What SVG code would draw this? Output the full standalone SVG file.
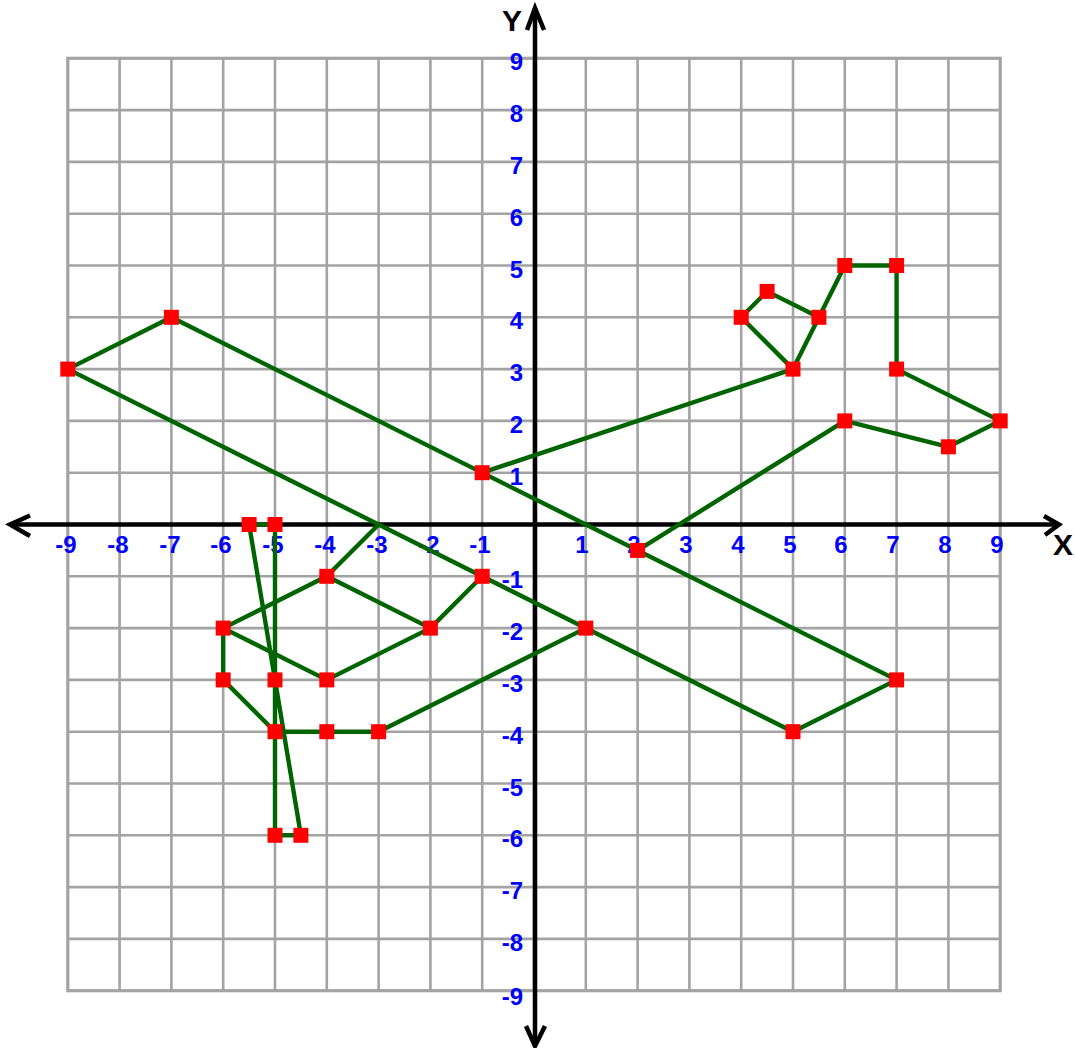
<svg xmlns="http://www.w3.org/2000/svg" width="1075" height="1048" viewBox="0 0 1075 1048">
<style>
.grid{stroke:#a3a3a3;stroke-width:2.6;fill:none}
.border{stroke:#a3a3a3;stroke-width:3.2;fill:none}
.axis{stroke:#000;stroke-width:4.5;fill:none}
.head{stroke:#000;stroke-width:4.5;fill:none;stroke-linecap:butt}
.lbl{font-family:"Liberation Sans",Arial,sans-serif;font-weight:bold;font-size:24px;fill:#0000ff}
.xl{text-anchor:middle}
.yl{text-anchor:end}
.ax{font-family:"Liberation Sans",Arial,sans-serif;font-weight:bold;font-size:30px;fill:#000}
.shape{stroke:#006400;stroke-width:4.4;fill:none;stroke-linejoin:round}
.pt{fill:#ff0000}
</style>
<rect width="1075" height="1048" fill="#fff"/>
<g id="grid">
<path class="grid" d="M119.6 58.3V990.7M171.4 58.3V990.7M223.2 58.3V990.7M275 58.3V990.7M326.8 58.3V990.7M378.6 58.3V990.7M430.4 58.3V990.7M482.2 58.3V990.7M534 58.3V990.7M585.8 58.3V990.7M637.6 58.3V990.7M689.4 58.3V990.7M741.2 58.3V990.7M793 58.3V990.7M844.8 58.3V990.7M896.6 58.3V990.7M948.4 58.3V990.7M67.8 110.1H1000.2M67.8 161.9H1000.2M67.8 213.7H1000.2M67.8 265.5H1000.2M67.8 317.3H1000.2M67.8 369.1H1000.2M67.8 420.9H1000.2M67.8 472.7H1000.2M67.8 524.5H1000.2M67.8 576.3H1000.2M67.8 628.1H1000.2M67.8 679.9H1000.2M67.8 731.7H1000.2M67.8 783.5H1000.2M67.8 835.3H1000.2M67.8 887.1H1000.2M67.8 938.9H1000.2"/>
<rect class="border" x="67.8" y="58.3" width="932.4" height="932.4"/>
</g>
<g id="x-labels" class="lbl xl">
<text x="66" y="553">-9</text>
<text x="118" y="553">-8</text>
<text x="170" y="553">-7</text>
<text x="221" y="553">-6</text>
<text x="273" y="553">-5</text>
<text x="325" y="553">-4</text>
<text x="377" y="553">-3</text>
<text x="429" y="553">-2</text>
<text x="480" y="553">-1</text>
<text x="582" y="553">1</text>
<text x="634" y="553">2</text>
<text x="686" y="553">3</text>
<text x="738" y="553">4</text>
<text x="790" y="553">5</text>
<text x="841" y="553">6</text>
<text x="893" y="553">7</text>
<text x="945" y="553">8</text>
<text x="997" y="553">9</text>
</g>
<g id="y-labels" class="lbl yl">
<text x="523" y="70">9</text>
<text x="523" y="122">8</text>
<text x="523" y="174">7</text>
<text x="523" y="226">6</text>
<text x="523" y="278">5</text>
<text x="523" y="329">4</text>
<text x="523" y="381">3</text>
<text x="523" y="433">2</text>
<text x="523" y="485">1</text>
<text x="523" y="588">-1</text>
<text x="523" y="640">-2</text>
<text x="523" y="692">-3</text>
<text x="523" y="744">-4</text>
<text x="523" y="796">-5</text>
<text x="523" y="847">-6</text>
<text x="523" y="899">-7</text>
<text x="523" y="951">-8</text>
<text x="523" y="1005">-9</text>
</g>
<g id="axes">
<path class="axis" d="M10 524.5H1059M535 8V1046"/>
<path class="head" d="M30 515.5L10 524.5L30 536M1044 516L1059 524.5L1045 535M527 30L535 8L544 30M526 1026L535 1046L545 1026"/>
<text class="ax" x="1053" y="555">X</text>
<text class="ax" x="502" y="31">Y</text>
</g>
<g id="connectors">
<polygon class="shape" points="67.8,369.1 171.4,317.3 896.6,679.9 793,731.7"/>
<polyline class="shape" points="482.2,472.7 793,369.1"/>
<polygon class="shape" points="793,369.1 741.2,317.3 767.1,291.4 818.9,317.3"/>
<polyline class="shape" points="818.9,317.3 844.8,265.5 896.6,265.5 896.6,369.1 1000.2,420.9 948.4,446.8 844.8,420.9 637.6,550.4"/>
<polyline class="shape" points="585.8,628.1 378.6,731.7 275,731.7 223.2,679.9 223.2,628.1 326.8,576.3 378.6,524.5"/>
<polyline class="shape" points="223.2,628.1 326.8,679.9 430.4,628.1 482.2,576.3"/>
<polyline class="shape" points="326.8,576.3 430.4,628.1"/>
<polygon class="shape" points="249.1,524.5 275,524.5 275,835.3 300.9,835.3"/>
</g>
<g id="points">
<g id="p1"><rect class="pt" x="60.3" y="361.6" width="15" height="15"/></g>
<g id="p2"><rect class="pt" x="163.9" y="309.8" width="15" height="15"/></g>
<g id="p3"><rect class="pt" x="474.7" y="465.2" width="15" height="15"/></g>
<g id="p4"><rect class="pt" x="785.5" y="361.6" width="15" height="15"/></g>
<g id="p5"><rect class="pt" x="733.7" y="309.8" width="15" height="15"/></g>
<g id="p6"><rect class="pt" x="759.6" y="283.9" width="15" height="15"/></g>
<g id="p7"><rect class="pt" x="811.4" y="309.8" width="15" height="15"/></g>
<g id="p8"><rect class="pt" x="837.3" y="258" width="15" height="15"/></g>
<g id="p9"><rect class="pt" x="889.1" y="258" width="15" height="15"/></g>
<g id="p10"><rect class="pt" x="889.1" y="361.6" width="15" height="15"/></g>
<g id="p11"><rect class="pt" x="992.7" y="413.4" width="15" height="15"/></g>
<g id="p12"><rect class="pt" x="940.9" y="439.3" width="15" height="15"/></g>
<g id="p13"><rect class="pt" x="837.3" y="413.4" width="15" height="15"/></g>
<g id="p14"><rect class="pt" x="630.1" y="542.9" width="15" height="15"/></g>
<g id="p15"><rect class="pt" x="889.1" y="672.4" width="15" height="15"/></g>
<g id="p16"><rect class="pt" x="785.5" y="724.2" width="15" height="15"/></g>
<g id="p17"><rect class="pt" x="578.3" y="620.6" width="15" height="15"/></g>
<g id="p18"><rect class="pt" x="474.7" y="568.8" width="15" height="15"/></g>
<g id="p19"><rect class="pt" x="422.9" y="620.6" width="15" height="15"/></g>
<g id="p20"><rect class="pt" x="319.3" y="568.8" width="15" height="15"/></g>
<g id="p21"><rect class="pt" x="319.3" y="672.4" width="15" height="15"/></g>
<g id="p22"><rect class="pt" x="215.7" y="620.6" width="15" height="15"/></g>
<g id="p23"><rect class="pt" x="215.7" y="672.4" width="15" height="15"/></g>
<g id="p24"><rect class="pt" x="267.5" y="672.4" width="15" height="15"/></g>
<g id="p25"><rect class="pt" x="267.5" y="724.2" width="15" height="15"/></g>
<g id="p26"><rect class="pt" x="319.3" y="724.2" width="15" height="15"/></g>
<g id="p27"><rect class="pt" x="371.1" y="724.2" width="15" height="15"/></g>
<g id="p28"><rect class="pt" x="241.6" y="517" width="15" height="15"/></g>
<g id="p29"><rect class="pt" x="267.5" y="517" width="15" height="15"/></g>
<g id="p30"><rect class="pt" x="267.5" y="827.8" width="15" height="15"/></g>
<g id="p31"><rect class="pt" x="293.4" y="827.8" width="15" height="15"/></g>
</g>
</svg>
